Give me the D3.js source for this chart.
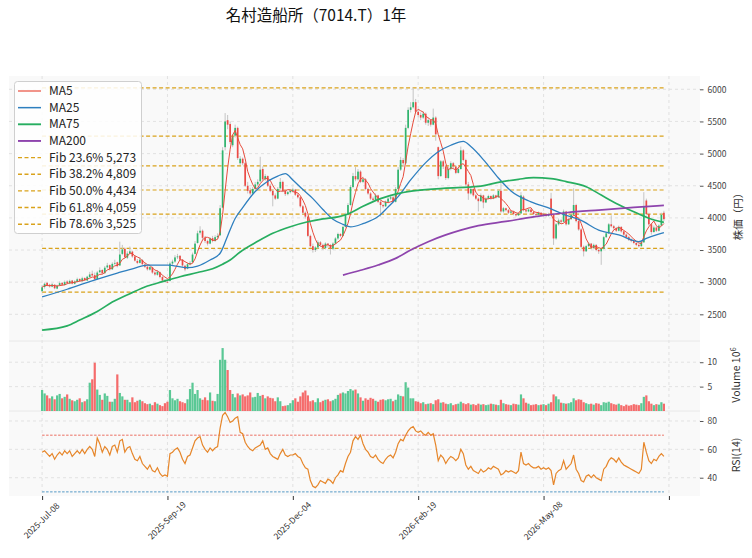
<!DOCTYPE html>
<meta charset="utf-8">
<script src="https://d3js.org/d3.v7.min.js"></script>
<style>
  body { margin: 0; background: #fff; }
  text { font-family: "Noto Sans CJK JP", "Noto Sans", sans-serif; }
</style>
<div id="chart"></div>
<script>

// daily candles [open, high, low, close], 2025-07-08 ..
var ohlc = [
  [2860,2955,2845,2920],[2925,2995,2900,2975],[2990,3000,2935,2950],[2960,2975,2915,2935],[2930,2985,2920,2965],
  [2960,2970,2890,2905],[2900,2960,2890,2945],[2950,3010,2940,2985],[2990,3000,2945,2960],[2955,3025,2950,3000],
  [3010,3030,2975,2985],[2980,3040,2970,3020],[3025,3035,2965,2980],[2975,3030,2965,3010],[3005,3070,3000,3045],
  [3050,3060,3005,3020],[3015,3085,3010,3060],[3065,3075,3020,3030],[3025,3100,3020,3085],[3080,3160,3070,3120],
  [3130,3180,3090,3105],[3110,3150,3030,3045],[3050,3175,3040,3150],[3155,3230,3140,3185],[3190,3200,3120,3140],
  [3140,3250,3130,3225],[3230,3300,3210,3260],[3265,3275,3180,3205],[3200,3310,3190,3285],[3290,3350,3270,3300],
  [3310,3320,3230,3250],[3260,3630,3250,3430],[3440,3580,3420,3510],[3520,3540,3370,3390],[3380,3480,3360,3445],
  [3450,3555,3430,3480],[3475,3490,3380,3400],[3400,3420,3320,3335],[3330,3360,3280,3300],[3300,3390,3290,3350],
  [3345,3360,3260,3280],[3275,3300,3220,3240],[3240,3260,3180,3200],[3195,3260,3180,3235],[3230,3240,3130,3150],
  [3150,3170,3100,3120],[3115,3190,3100,3160],[3155,3165,3060,3080],[3080,3095,3010,3025],[3020,3050,2995,3010],
  [3005,3030,2985,3000],[3020,3320,3010,3290],[3290,3350,3260,3320],[3320,3420,3300,3385],[3390,3440,3360,3400],
  [3410,3420,3330,3350],[3350,3360,3240,3260],[3255,3270,3170,3200],[3210,3300,3200,3280],[3280,3330,3260,3300],
  [3310,3460,3300,3430],[3440,3640,3430,3600],[3610,3800,3600,3760],[3770,3870,3740,3800],[3800,3820,3660,3690],
  [3690,3720,3610,3640],[3640,3660,3570,3600],[3600,3700,3590,3680],[3685,3720,3620,3640],[3640,3730,3630,3700],
  [3700,3760,3680,3720],[3730,4200,3720,4150],[4160,5100,4150,5050],[5100,5630,5050,5500],[5520,5600,5380,5450],
  [5460,5500,5150,5180],[5130,5300,5100,5270],[5280,5450,5250,5400],[5400,5420,4900,4930],[4850,4960,4820,4920],
  [4920,4940,4820,4850],[4850,4870,4480,4500],[4500,4560,4380,4420],[4430,4470,4350,4380],[4380,4480,4360,4450],
  [4450,4560,4430,4520],[4520,4600,4490,4560],[4570,4950,4550,4750],[4760,4800,4580,4600],[4600,4680,4580,4650],
  [4650,4660,4480,4500],[4500,4530,4400,4420],[4420,4440,4180,4350],[4350,4380,4280,4300],[4300,4480,4290,4450],
  [4460,4620,4440,4560],[4560,4580,4400,4420],[4420,4440,4340,4370],[4370,4420,4350,4400],[4400,4450,4380,4420],
  [4420,4470,4400,4440],[4440,4450,4340,4360],[4360,4380,4300,4320],[4320,4330,4160,4180],[4180,4200,4060,4080],
  [4080,4100,3990,4020],[4020,4030,3700,3720],[3720,3740,3540,3560],[3560,3600,3460,3500],[3500,3560,3470,3540],
  [3540,3650,3520,3620],[3620,3640,3560,3580],[3580,3600,3500,3530],[3530,3620,3510,3600],[3600,3610,3540,3580],
  [3580,3590,3430,3520],[3520,3620,3500,3600],[3600,3700,3590,3680],[3680,3770,3660,3750],[3750,3760,3700,3720],
  [3720,3880,3710,3860],[3860,4080,3850,4050],[4050,4230,4040,4200],[4200,4510,4190,4480],[4480,4700,4460,4650],
  [4650,4790,4570,4600],[4600,4760,4580,4720],[4720,4740,4540,4560],[4560,4640,4540,4600],[4600,4620,4430,4450],
  [4450,4470,4360,4380],[4380,4400,4280,4300],[4300,4330,4250,4280],[4280,4380,4270,4350],[4350,4360,4230,4250],
  [4250,4270,4020,4200],[4200,4220,4150,4180],[4180,4270,4170,4250],[4250,4330,4240,4300],[4300,4360,4280,4320],
  [4320,4340,4230,4250],[4250,4480,4240,4450],[4450,4790,4440,4750],[4750,4950,4730,4900],[4900,4930,4800,4850],
  [4850,5450,4840,5400],[5400,5720,5380,5680],[5680,5800,5640,5720],[5720,6023,5700,5800],[5800,5850,5620,5650],
  [5650,5680,5560,5600],[5600,5640,5520,5560],[5560,5660,5540,5620],[5620,5640,5450,5480],[5480,5560,5430,5520],
  [5520,5540,5420,5450],[5450,5700,5440,5560],[5560,5580,5200,5300],[5100,5110,4600,4650],[4650,4900,4640,4880],
  [4880,4900,4760,4800],[4800,4820,4590,4620],[4620,4800,4600,4760],[4760,4880,4740,4850],[4850,4870,4770,4800],
  [4800,4820,4680,4700],[4700,4790,4690,4760],[4760,5110,4750,5050],[5050,5070,4880,4900],[4900,4920,4500,4520],
  [4520,4560,4280,4380],[4380,4470,4360,4450],[4450,4460,4330,4350],[4350,4370,4280,4300],[4300,4320,4100,4260],
  [4260,4380,4250,4350],[4350,4360,4150,4240],[4240,4320,4230,4300],[4300,4360,4290,4340],[4340,4350,4280,4300],
  [4300,4370,4290,4350],[4350,4360,4300,4320],[4320,4440,4310,4420],[4420,4590,4080,4100],[4100,4170,4080,4150],
  [4150,4160,4100,4120],[4120,4140,4060,4080],[4080,4120,4070,4100],[4100,4110,4040,4060],[4060,4070,4020,4040],
  [4040,4090,4030,4070],[4070,4400,4060,4350],[4330,4350,4100,4120],[4120,4140,4080,4100],[4100,4150,4090,4130],
  [4130,4140,4070,4090],[4090,4100,4040,4060],[4060,4070,4030,4050],[4050,4100,4040,4080],[4080,4090,4030,4040],
  [4040,4080,4030,4060],[4060,4070,4010,4030],[4030,4080,4020,4060],[4300,4390,4030,4060],[4050,4070,3580,3680],
  [3680,3920,3660,3900],[3900,3990,3880,3960],[3960,3980,3910,3940],[3940,4130,3930,4100],[4100,4110,3880,3900],
  [3900,4000,3890,3980],[3980,4070,3970,4050],[4050,4460,4040,4200],[4200,4220,3930,3950],[3950,3970,3800,3820],
  [3820,3840,3530,3550],[3550,3570,3400,3480],[3480,3580,3470,3560],[3560,3620,3550,3600],[3600,3610,3510,3530],
  [3530,3600,3520,3580],[3580,3590,3480,3500],[3500,3520,3440,3480],[3480,3540,3270,3520],[3520,3720,3510,3700],
  [3700,3780,3690,3760],[3760,3920,3750,3900],[3900,4040,3850,3870],[3870,3890,3820,3840],[3840,3860,3780,3800],
  [3800,3880,3790,3860],[3860,3870,3770,3790],[3790,3800,3720,3740],[3740,3760,3680,3700],[3700,3720,3640,3660],
  [3660,3680,3620,3640],[3640,3660,3590,3610],[3610,3630,3560,3580],[3580,3600,3540,3560],[3560,3640,3550,3620],
  [3620,4400,3610,4170],[4270,4300,4040,4060],[4060,4080,3880,3900],[3900,3920,3740,3780],[3780,3880,3770,3850],
  [3850,3870,3780,3800],[3800,3900,3790,3880],[3880,4080,3870,4050],[4080,4110,3950,3980]
];

// volume, millions of shares
var volumes = [
  4.3,3.6,3.2,2.6,3.0,2.4,3.2,3.5,2.6,2.9, 3.4,2.5,2.2,2.0,2.3,2.6,1.8,2.0,2.4,5.8,
  6.5,9.9,4.4,3.3,2.3,3.6,3.1,1.9,1.9,2.5, 7.5,3.7,3.0,2.3,2.3,1.8,2.8,1.8,2.1,2.3,
  2.0,1.6,1.4,1.5,1.2,1.8,1.5,1.2,1.0,1.6, 1.9,4.3,2.6,2.2,2.5,2.0,1.8,1.6,2.4,4.5,
  5.8,3.5,4.3,2.6,2.3,2.8,2.2,3.8,2.1,2.0, 3.5,10.5,12.9,10.5,8.4,4.3,3.5,2.8,3.6,3.2,
  3.4,3.0,3.2,3.8,2.8,2.9,3.7,3.1,3.3,2.6, 3.0,2.7,2.6,2.0,2.8,2.0,1.0,1.1,1.2,1.6,
  2.2,2.6,1.9,3.0,3.8,4.2,3.2,2.0,2.2,1.8, 2.6,1.8,2.1,2.3,2.4,2.0,2.2,2.5,3.3,3.6,
  3.8,3.6,4.1,4.5,4.2,4.4,3.6,2.8,2.1,2.6, 2.3,2.7,2.5,2.1,1.9,2.3,2.4,2.2,2.4,2.5,
  2.0,2.3,3.4,3.1,3.0,5.9,4.8,2.6,2.6,2.0, 1.9,1.6,1.8,1.4,1.5,1.6,1.4,2.2,2.4,1.7,
  1.8,1.5,1.4,1.6,1.2,1.4,1.5,1.9,1.6,1.4, 1.6,1.3,1.4,1.2,1.5,1.3,1.4,1.2,1.3,1.5,
  1.4,1.3,1.2,2.3,1.6,1.4,1.3,1.2,1.5,1.4, 1.3,3.4,2.6,1.7,1.5,1.2,1.3,1.4,1.2,1.3,
  1.4,1.2,1.5,1.8,3.4,3.0,2.4,1.7,1.6,1.5, 1.6,1.8,2.6,2.2,2.4,2.3,1.8,1.6,1.4,1.5,
  1.3,1.6,1.5,1.2,1.8,1.7,1.9,1.6,1.4,1.3, 1.5,1.2,1.0,1.3,1.1,1.2,1.4,1.3,1.2,1.6,
  2.9,3.2,2.0,1.5,1.2,1.4,1.3,1.8,1.5
];

// RSI(14)
var rsi = [
  58,59,57,55,57,53,56,58,56,59, 57,59,55,57,59,57,60,57,60,62,
  60,55,68,64,58,62,60,56,62,63, 58,66,67,58,61,62,57,53,52,55,
  50,48,46,49,45,44,47,43,41,42, 41,57,58,60,61,58,53,50,55,56,
  61,66,68,69,63,60,58,61,59,61, 62,75,84,86,83,79,80,82,83,72,
  71,65,62,60,59,61,62,63,66,60, 61,57,55,54,53,57,60,56,55,56,
  56,57,55,54,50,47,46,38,34,33, 35,38,37,36,39,38,36,40,42,45,
  44,50,55,58,66,69,67,70,64,60, 58,55,54,56,53,51,50,53,55,56,
  54,58,64,67,66,70,73,75,76,73, 72,73,71,70,72,70,71,63,52,56,
  54,50,53,55,54,52,54,60,57,49, 46,48,45,44,43,46,44,45,47,46,
  48,47,46,42,43,45,44,45,44,43, 45,58,50,49,50,48,47,47,48,46,
  47,46,47,45,35,43,45,46,52,46, 48,50,56,46,43,38,37,41,42,40,
  42,40,39,38,46,48,52,54,53,51, 54,51,49,48,47,46,45,44,43,46,
  65,58,52,50,53,52,55,57,55
];

// longer moving averages as [day index, value]
var ma25 = [[0,2770],[10,2890],[19,3008],[30,3140],[37,3220],[42,3265],[50,3265],[58,3225],[62,3250],
  [67,3345],[71,3450],[74,3720],[77,3990],[80,4160],[85,4410],[90,4570],[94,4650],[97,4690],[100,4590],
  [104,4440],[108,4300],[112,4130],[116,3980],[120,3900],[123,3860],[128,3910],[134,4020],[138,4170],
  [142,4330],[147,4590],[153,4860],[158,5030],[163,5130],[168,5190],[171,5110],[177,4860],[182,4620],
  [187,4420],[195,4250],[203,4140],[207,4070],[215,3960],[222,3810],[230,3735],[238,3630],[241,3680],
  [245,3735],[248,3770]];
var ma75 = [[0,2255],[10,2320],[15,2411],[22,2545],[28,2690],[35,2820],[42,2940],[48,3008],[55,3085],
  [62,3150],[68,3210],[72,3280],[75,3345],[79,3470],[86,3635],[92,3760],[99,3863],[106,3940],[112,3985],
  [118,4015],[122,4060],[128,4180],[135,4300],[141,4370],[148,4420],[160,4460],[174,4490],[183,4560],
  [190,4600],[196,4625],[203,4610],[209,4565],[217,4485],[223,4355],[229,4225],[236,4095],[242,3995],[248,3930]];
var ma200 = [[120,3110],[127,3185],[134,3267],[141,3370],[147,3500],[154,3630],[161,3735],[167,3810],
  [174,3880],[185,3945],[196,4015],[209,4080],[222,4122],[236,4163],[248,4195]];

var tickIdx = [0, 50, 100, 150, 200, 250];
var tickLabels = ["2025-Jul-08", "2025-Sep-19", "2025-Dec-04", "2026-Feb-19", "2026-May-08", ""];
var fibRatios = [0, 0.236, 0.382, 0.5, 0.618, 0.786, 1];
var priceTicks = [2500, 3000, 3500, 4000, 4500, 5000, 5500, 6000];

var W = 752, H = 558;
var left = 9, right = 700;
var mainTop = 76, mainBot = 341, volBot = 411, rsiBot = 496;

var upC = "#2fb56e", downC = "#ec4a45";

var svg = d3.select("#chart").append("svg")
  .attr("width", W).attr("height", H);

var x = d3.scaleLinear().domain([-13.2, 262.4]).range([left, right]);
var y = d3.scaleLinear().domain([2085, 6207]).range([mainBot, mainTop]);
var yv = d3.scaleLinear().domain([0, 14.35]).range([volBot, mainBot]);
var yr = d3.scaleLinear().domain([27.1, 87.05]).range([rsiBot, volBot]);

var n = ohlc.length;
var first = x(0), last = x(n - 1);

// panel background
svg.append("rect").attr("x", left).attr("y", mainTop)
  .attr("width", right - left).attr("height", rsiBot - mainTop).attr("fill", "#f9f9f9");

// grid
var grid = svg.append("g").attr("stroke", "#d8d8d8").attr("stroke-width", 0.7)
  .attr("stroke-dasharray", "3,3");
tickIdx.forEach(function(t) {
  grid.append("line").attr("x1", x(t)).attr("x2", x(t)).attr("y1", mainTop).attr("y2", rsiBot);
});
priceTicks.forEach(function(p) {
  grid.append("line").attr("x1", left).attr("x2", right).attr("y1", y(p)).attr("y2", y(p));
});
[5, 10].forEach(function(v) {
  grid.append("line").attr("x1", left).attr("x2", right).attr("y1", yv(v)).attr("y2", yv(v));
});
[40, 60, 80].forEach(function(v) {
  grid.append("line").attr("x1", left).attr("x2", right).attr("y1", yr(v)).attr("y2", yr(v));
});
[mainBot, volBot].forEach(function(v) {
  svg.append("line").attr("x1", left).attr("x2", right).attr("y1", v).attr("y2", v)
    .attr("stroke", "#e4e4e4").attr("stroke-width", 0.8);
});

// fibonacci levels
var hi = d3.max(ohlc, function(d) { return d[1]; });
var lo = d3.min(ohlc, function(d) { return d[2]; });
var fib = fibRatios.map(function(r) { return {r: r, v: hi - r * (hi - lo)}; });
svg.append("g").selectAll("line").data(fib).enter().append("line")
  .attr("x1", first).attr("x2", last)
  .attr("y1", function(d) { return y(d.v); }).attr("y2", function(d) { return y(d.v); })
  .attr("stroke", "#d9a21b").attr("stroke-width", 1.2).attr("stroke-dasharray", "4,2.5");

// candles
var cg = svg.append("g");
cg.selectAll("line").data(ohlc).enter().append("line")
  .attr("x1", function(d, i) { return x(i); }).attr("x2", function(d, i) { return x(i); })
  .attr("y1", function(d) { return y(d[1]); }).attr("y2", function(d) { return y(d[2]); })
  .attr("stroke", "#c4c4c4").attr("stroke-width", 1);
cg.selectAll("rect").data(ohlc).enter().append("rect")
  .attr("x", function(d, i) { return x(i) - 0.85; })
  .attr("width", 1.7)
  .attr("y", function(d) { return y(Math.max(d[0], d[3])); })
  .attr("height", function(d) { return Math.max(0.8, Math.abs(y(d[0]) - y(d[3]))); })
  .attr("fill", function(d) { return d[3] >= d[0] ? upC : downC; });

// moving averages
var closes = ohlc.map(function(d) { return d[3]; });
var ma5 = closes.map(function(c, i) {
  return [i, d3.mean(closes.slice(Math.max(0, i - 4), i + 1))];
});
var line = d3.line().x(function(d) { return x(d[0]); }).y(function(d) { return y(d[1]); });
var smooth = d3.line().curve(d3.curveMonotoneX)
  .x(function(d) { return x(d[0]); }).y(function(d) { return y(d[1]); });
var maDefs = [
  {name: "MA5", color: "#e74c3c", w: 1, pts: ma5, gen: line},
  {name: "MA25", color: "#2e7fbf", w: 1.3, pts: ma25, gen: smooth},
  {name: "MA75", color: "#27ae60", w: 1.7, pts: ma75, gen: smooth},
  {name: "MA200", color: "#8e44ad", w: 1.7, pts: ma200, gen: smooth}
];
maDefs.forEach(function(m) {
  svg.append("path").attr("d", m.gen(m.pts)).attr("fill", "none")
    .attr("stroke", m.color).attr("stroke-width", m.w);
});

// volume
svg.append("g").selectAll("rect").data(volumes).enter().append("rect")
  .attr("x", function(d, i) { return x(i) - 1.1; })
  .attr("width", 2.2)
  .attr("y", function(d) { return yv(d); })
  .attr("height", function(d) { return yv(0) - yv(d); })
  .attr("fill", function(d, i) { return ohlc[i][3] >= ohlc[i][0] ? "#48c28a" : "#f45b5b"; })
  .attr("opacity", 0.9);

// RSI
[[70, "#e74c3c"], [30, "#2980b9"]].forEach(function(g) {
  svg.append("line").attr("x1", first).attr("x2", last).attr("y1", yr(g[0])).attr("y2", yr(g[0]))
    .attr("stroke", g[1]).attr("stroke-width", 0.8).attr("stroke-dasharray", "2.5,1.5");
});
svg.append("path").datum(rsi)
  .attr("d", d3.line().x(function(d, i) { return x(i); }).y(function(d) { return yr(d); }))
  .attr("fill", "none").attr("stroke", "#e6862a").attr("stroke-width", 1.2);

// axes
function rightAxis(scale, vals, fmt) {
  var g = svg.append("g").attr("transform", "translate(" + right + ",0)")
    .call(d3.axisRight(scale).tickValues(vals).tickSize(3.5).tickPadding(4).tickFormat(fmt));
  g.select(".domain").remove();
  g.selectAll("line").attr("stroke", "#555");
  g.selectAll("text").attr("fill", "#444").style("font-size", "8.5px");
}
rightAxis(y, priceTicks, d3.format("d"));
rightAxis(yv, [5, 10], d3.format("d"));
rightAxis(yr, [40, 60, 80], d3.format("d"));

var xa = svg.append("g").attr("transform", "translate(0," + rsiBot + ")")
  .call(d3.axisBottom(x).tickValues(tickIdx).tickSize(4).tickFormat(""));
xa.select(".domain").remove();
xa.selectAll("line").attr("stroke", "#333");
svg.append("g").selectAll("text").data(tickIdx).enter().append("text")
  .attr("transform", function(t) { return "translate(" + x(t) + ",521) rotate(-45)"; })
  .attr("text-anchor", "middle").attr("dominant-baseline", "middle")
  .style("font-size", "8.5px").attr("fill", "#333")
  .text(function(t, i) { return tickLabels[i]; });

// axis titles
function ylab(txt, cx, cy) {
  return svg.append("text").attr("transform", "translate(" + cx + "," + cy + ") rotate(-90)")
    .attr("text-anchor", "middle").style("font-size", "10.5px").attr("fill", "#333").text(txt);
}
ylab("株価（円）", 742, 214);
var vl = ylab("Volume  10", 740, 375);
vl.append("tspan").attr("dy", -4).style("font-size", "7.5px").text("6");
ylab("RSI(14)", 740, 455);

// title
svg.append("text").attr("x", 316).attr("y", 21).attr("text-anchor", "middle")
  .style("font-size", "15.5px").attr("fill", "#111").text("名村造船所（7014.T）1年");

// legend
var fmt = d3.format(",.0f");
var items = maDefs.map(function(m) { return {label: m.name, color: m.color, w: m.w, dash: null}; })
  .concat(fib.slice(1, 6).map(function(f) {
    return {label: "Fib " + (f.r * 100).toFixed(1) + "% " + fmt(f.v), color: "#d9a21b", w: 1.2, dash: "4,2.5"};
  }));
var lg = svg.append("g");
lg.append("rect").attr("x", 14.5).attr("y", 81.5).attr("width", 127).attr("height", 152)
  .attr("rx", 3).attr("fill", "#fff").attr("fill-opacity", 0.85).attr("stroke", "#cfcfcf");
items.forEach(function(it, k) {
  var yy = 91 + k * 16.65;
  lg.append("line").attr("x1", 18).attr("x2", 41).attr("y1", yy).attr("y2", yy)
    .attr("stroke", it.color).attr("stroke-width", it.w + 0.2).attr("stroke-dasharray", it.dash);
  lg.append("text").attr("x", 49).attr("y", yy + 4).style("font-size", "12px").attr("fill", "#222")
    .text(it.label);
});

</script>
